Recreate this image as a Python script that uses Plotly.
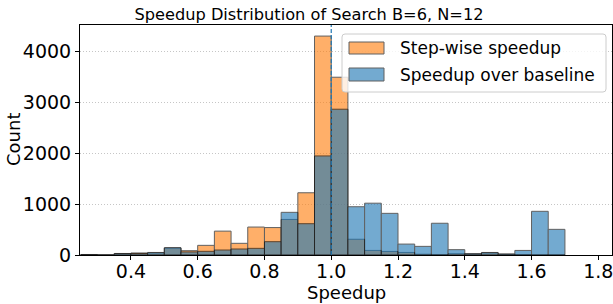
import numpy as np
import plotly.graph_objects as go

# ---- data (histogram counts per 0.05-wide bin) ----
bin_start = 0.25
bin_width = 0.05
stepwise_counts = [8, 0, 25, 40, 40, 135, 85, 190, 470, 230, 550, 540, 700, 1225,
                   4310, 3500, 310, 90, 70, 50, 15, 5, 25, 20, 40, 15, 5, 0, 0]
baseline_counts = [10, 0, 30, 30, 50, 145, 60, 72, 98, 118, 131, 262, 840, 616,
                   1950, 2870, 950, 1020, 820, 215, 170, 625, 105, 25, 50, 20, 90, 860, 505]
series_names = ["Step-wise speedup", "Speedup over baseline"]
x_ticks = [0.4, 0.6, 0.8, 1.0, 1.2, 1.4, 1.6, 1.8]
y_ticks = [0, 1000, 2000, 3000, 4000]
ref_line_x = 1.0

n_bins = len(stepwise_counts)
centers = bin_start + bin_width * (np.arange(n_bins) + 0.5)

ORANGE = "#ff7f0e"
BLUE = "#1f77b4"
FONT = "DejaVu Sans"
ALPHA = 0.62

fig = go.Figure()
for counts, color, name in [(stepwise_counts, ORANGE, series_names[0]),
                            (baseline_counts, BLUE, series_names[1])]:
    fig.add_trace(go.Bar(
        x=centers, y=counts, width=bin_width, name=name,
        marker=dict(color=color, line=dict(color="black", width=1)),
        opacity=ALPHA, showlegend=False, hoverinfo="skip",
    ))

# reference line
fig.add_shape(type="line", xref="x", yref="paper", x0=ref_line_x, x1=ref_line_x,
              y0=0, y1=1, line=dict(color=BLUE, width=1.2, dash="4px,2px"), layer="above")

# ---- layout geometry (pixels) ----
L, R, T, B = 80, 612, 25, 255
W, H = R - L, B - T
def px(xp):
    return (xp - L) / W
def py(yp):
    return (B - yp) / H

# ---- manual legend (matplotlib-style) ----
bx0, bx1, by0, by1 = 342, 606, 34, 92
r = 3
path = (f"M{px(bx0 + r)},{py(by0)} L{px(bx1 - r)},{py(by0)} "
        f"Q{px(bx1)},{py(by0)} {px(bx1)},{py(by0 + r)} "
        f"L{px(bx1)},{py(by1 - r)} Q{px(bx1)},{py(by1)} {px(bx1 - r)},{py(by1)} "
        f"L{px(bx0 + r)},{py(by1)} Q{px(bx0)},{py(by1)} {px(bx0)},{py(by1 - r)} "
        f"L{px(bx0)},{py(by0 + r)} Q{px(bx0)},{py(by0)} {px(bx0 + r)},{py(by0)} Z")
fig.add_shape(type="path", xref="paper", yref="paper", path=path,
              fillcolor="rgba(255,255,255,0.8)", line=dict(color="#cccccc", width=1),
              layer="above")
for (y0p, y1p, color, name) in [(42, 54, ORANGE, series_names[0]),
                                (68, 81, BLUE, series_names[1])]:
    fig.add_shape(type="rect", xref="paper", yref="paper",
                  x0=px(349), x1=px(384), y0=py(y1p), y1=py(y0p),
                  fillcolor=color, line=dict(color="black", width=1),
                  opacity=ALPHA, layer="above")
    fig.add_annotation(xref="paper", yref="paper", x=px(398), y=py((y0p + y1p) / 2),
                       text=name, showarrow=False, xanchor="left", yanchor="middle",
                       font=dict(family=FONT, size=17, color="black"))

# axis titles
fig.add_annotation(xref="paper", yref="paper", x=0.5, y=py(292), text="Speedup",
                   showarrow=False, xanchor="center", yanchor="middle",
                   font=dict(family=FONT, size=18, color="black"))
fig.add_annotation(xref="paper", yref="paper", x=px(13), y=0.5, text="Count",
                   showarrow=False, xanchor="center", yanchor="middle", textangle=-90,
                   font=dict(family=FONT, size=18, color="black"))

fig.update_layout(
    width=613, height=304,
    margin=dict(l=L, r=613 - R, t=T, b=304 - B, autoexpand=False),
    paper_bgcolor="white", plot_bgcolor="white",
    barmode="overlay", bargap=0,
    font=dict(family=FONT, size=19, color="black"),
    title=dict(text="Speedup Distribution of Search B=6, N=12",
               x=309 / 613, xanchor="center",
               y=1 - 14 / 304, yanchor="middle",
               font=dict(family=FONT, size=16.2, color="black")),
    xaxis=dict(range=[0.2475, 1.841], tickvals=x_ticks, automargin=False,
               ticktext=[f"{v:.1f}" for v in x_ticks], ticklabeloverflow="allow",
               ticklabelstandoff=-5,
               showgrid=False, zeroline=False, showline=True, linecolor="black",
               linewidth=1, mirror=True, ticks="outside", ticklen=4, tickcolor="black",
               tickfont=dict(size=19)),
    yaxis=dict(range=[0, 4528], tickvals=y_ticks, ticktext=[str(v) for v in y_ticks],
               automargin=False,
               showgrid=True, gridcolor="#b8b8b8", gridwidth=0.8, griddash="1px,2px",
               zeroline=False, showline=True, linecolor="black", linewidth=1, mirror=True,
               ticks="outside", ticklen=4, tickcolor="black", tickfont=dict(size=19)),
)

fig.write_html(
    "out.html",
    config={"displayModeBar": False, "staticPlot": True},
    post_script="document.body.style.margin='0';document.body.style.padding='0';"
                "document.documentElement.style.overflow='hidden';",
)
